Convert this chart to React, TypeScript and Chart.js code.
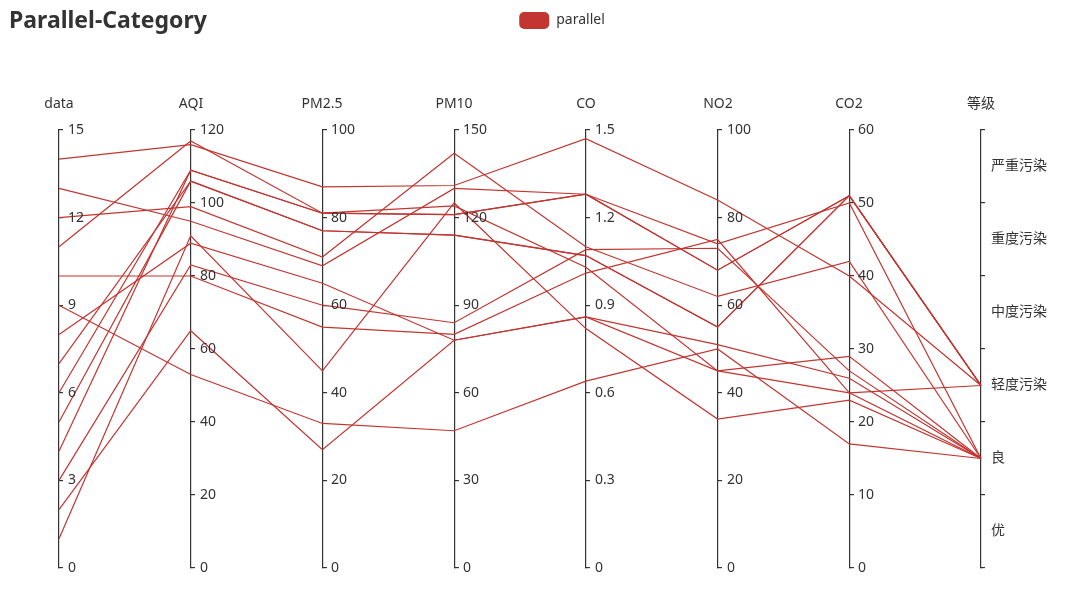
import React, { useEffect, useRef } from 'react';
import { Chart, registerables } from 'chart.js';

Chart.register(...registerables);

// ---- data ----
const dimensions = ['data', 'AQI', 'PM2.5', 'PM10', 'CO', 'NO2', 'CO2', '等级'];
const gradeLabels = ['优', '良', '轻度污染', '中度污染', '重度污染', '严重污染'];
const axisMax = [15, 120, 100, 150, 1.5, 100, 60];
const axisStep = [3, 20, 20, 30, 0.3, 20, 10];

const day = [1, 2, 3, 4, 5, 6, 7, 8, 9, 10, 11, 12, 13, 14];
const aqi = [91, 65, 83, 109, 106, 109, 106, 89, 53, 80, 117, 99, 95, 116];
const pm25 = [45, 27, 60, 81, 77, 81, 77, 65, 33, 55, 81, 71, 69, 87];
const pm10 = [125, 78, 84, 121, 114, 121, 114, 78, 47, 80, 124, 142, 130, 131];
const co = [0.82, 0.86, 1.09, 1.28, 1.07, 1.28, 1.07, 0.86, 0.64, 1.01, 1.03, 1.1, 1.28, 1.47];
const no2 = [34, 45, 73, 68, 55, 68, 55, 51, 50, 75, 45, 62, 74, 84];
const co2 = [23, 29, 27, 51, 51, 51, 51, 26, 17, 24, 24, 42, 50, 40];
const grade = ['良', '良', '良', '轻度污染', '轻度污染', '轻度污染', '轻度污染', '良', '良', '良', '轻度污染', '良', '良', '轻度污染'];

const numericColumns = [day, aqi, pm25, pm10, co, no2, co2];

// ---- style ----
const LINE_COLOR = '#c23531';
const TEXT_COLOR = '#333';
const FONT = '"Noto Sans", "Noto Sans CJK SC", sans-serif';

const W = 1072;
const H = 592;

export default function App() {
  const ref = useRef<HTMLCanvasElement>(null);

  useEffect(() => {
    if (!ref.current) return;
    const padLeft = 9;
    const padRight = -43; // shifts the legend centre; chart area itself stays within the canvas
    const padBottom = 24;
    const areaTop = 130;
    const firstAxisPx = 59;
    const lastAxisPx = 981;
    const areaLeft = padLeft;
    const areaRight = W - Math.max(padRight, 0);
    const nAxes = dimensions.length;
    const unit = (lastAxisPx - firstAxisPx) / (nAxes - 1);
    const xMin = -(firstAxisPx - areaLeft) / unit;
    const xMax = nAxes - 1 + (areaRight - lastAxisPx) / unit;

    const axisGrid = {
      display: true,
      drawOnChartArea: false,
      drawTicks: true,
      tickLength: -5,
      color: TEXT_COLOR,
      lineWidth: 1.2,
    };
    const axisBorder = { display: true, color: TEXT_COLOR, width: 1.2 };

    const scales: any = {
      x: {
        type: 'linear',
        position: 'top',
        min: xMin,
        max: xMax,
        grid: { display: false },
        border: { display: false },
        ticks: { display: false },
        afterFit: (s: any) => {
          const c = s.chart;
          const used = (c.legend ? c.legend.height : 0) + (c.titleBlock ? c.titleBlock.height : 0);
          s.height = areaTop - used;
        },
      },
    };
    for (let i = 0; i < numericColumns.length; i++) {
      scales['y' + i] = {
        type: 'linear',
        position: { x: i },
        min: 0,
        max: axisMax[i],
        ticks: { display: false, stepSize: axisStep[i] },
        grid: axisGrid,
        border: axisBorder,
      };
    }
    const catIndex = nAxes - 1;
    scales['y' + catIndex] = {
      type: 'category',
      labels: gradeLabels,
      reverse: true,
      offset: true,
      position: { x: catIndex },
      ticks: { display: false },
      grid: { ...axisGrid, offset: true },
      border: axisBorder,
    };

    const parallelLines = {
      id: 'parallelLines',
      afterDatasetsDraw(chart: any) {
        const ctx = chart.ctx;
        const xs = chart.scales.x;
        ctx.save();
        ctx.strokeStyle = LINE_COLOR;
        ctx.lineWidth = 1.2;
        ctx.lineJoin = 'miter';
        for (let r = 0; r < day.length; r++) {
          ctx.beginPath();
          for (let i = 0; i < nAxes; i++) {
            const x = xs.getPixelForValue(i);
            const s = chart.scales['y' + i];
            const v = i < numericColumns.length ? numericColumns[i][r] : gradeLabels.indexOf(grade[r]);
            const y = s.getPixelForValue(v);
            if (i === 0) ctx.moveTo(x, y);
            else ctx.lineTo(x, y);
          }
          ctx.stroke();
        }
        ctx.restore();
      },
    };

    const axisText = {
      id: 'axisText',
      afterDraw(chart: any) {
        const ctx = chart.ctx;
        const xs = chart.scales.x;
        ctx.save();
        ctx.fillStyle = TEXT_COLOR;
        ctx.font = `14px ${FONT}`;
        ctx.textBaseline = 'middle';
        for (let i = 0; i < nAxes; i++) {
          const x = Math.round(xs.getPixelForValue(i));
          const s = chart.scales['y' + i];
          // axis name
          ctx.textAlign = 'center';
          ctx.fillText(dimensions[i], x, chart.chartArea.top - 26);
          // tick labels
          ctx.textAlign = 'left';
          const off = i < numericColumns.length ? 9 : 10;
          s.ticks.forEach((t: any) => {
            const y = s.getPixelForValue(t.value);
            ctx.fillText(String(t.label), x + off, y);
          });
        }
        ctx.restore();
      },
    };

    const titleFontSize = 23;
    const titleLH = 1.2;
    const titleTop = 7.5;

    const chart = new Chart(ref.current, {
      type: 'line',
      data: {
        datasets: [
          {
            label: 'parallel',
            data: [],
            xAxisID: 'x',
            yAxisID: 'y0',
            backgroundColor: LINE_COLOR,
            borderColor: LINE_COLOR,
            borderWidth: 0,
          },
        ],
      },
      options: {
        responsive: false,
        animation: false,
        layout: { padding: { left: padLeft, right: padRight, top: 0, bottom: padBottom } },
        plugins: {
          title: {
            display: true,
            text: 'Parallel-Category',
            align: 'start',
            color: TEXT_COLOR,
            font: { size: titleFontSize, weight: 'bold', family: FONT, lineHeight: titleLH },
            padding: { top: titleTop, bottom: -(titleFontSize * titleLH + titleTop) },
          },
          legend: {
            display: true,
            position: 'top',
            align: 'center',
            labels: {
              boxWidth: 30,
              boxHeight: 17,
              useBorderRadius: true,
              borderRadius: 5,
              color: TEXT_COLOR,
              font: { size: 14, family: FONT },
              padding: 12,
            },
          },
          tooltip: { enabled: false },
        },
        scales,
      } as any,
      plugins: [parallelLines, axisText],
    });

    return () => chart.destroy();
  }, []);

  return (
    <div style={{ position: 'absolute', left: 0, top: 0, width: W, height: H, background: '#fff' }}>
      <canvas ref={ref} width={W} height={H} />
    </div>
  );
}
